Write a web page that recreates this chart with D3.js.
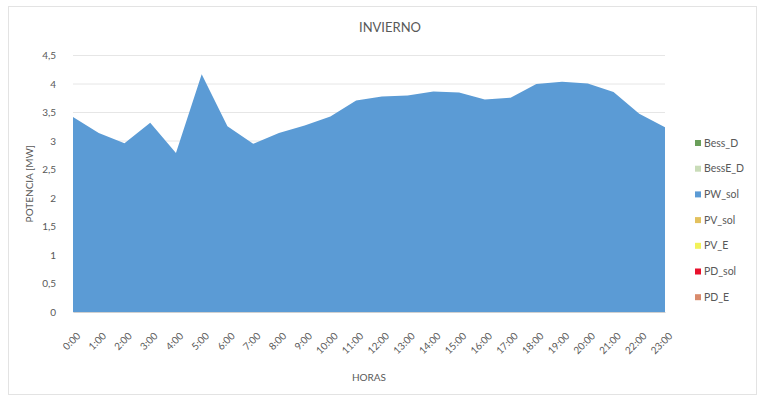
<!DOCTYPE html>
<html>
<head>
<meta charset="utf-8">
<script src="https://cdn.jsdelivr.net/npm/d3@7"></script>
<style>
  html, body { margin: 0; padding: 0; background: #fff; }
  svg { display: block; }
  text { font-family: Lato, "Open Sans", sans-serif; fill: #595959; }
</style>
</head>
<body>
<svg id="chart" width="759" height="397"></svg>
<script>
// Hourly winter profile (MW)
const hours = ["0:00","1:00","2:00","3:00","4:00","5:00","6:00","7:00","8:00","9:00","10:00","11:00",
               "12:00","13:00","14:00","15:00","16:00","17:00","18:00","19:00","20:00","21:00","22:00","23:00"];
const pwSol = [3.42, 3.14, 2.96, 3.32, 2.79, 4.17, 3.26, 2.95, 3.14, 3.27, 3.43, 3.71,
               3.78, 3.80, 3.87, 3.85, 3.73, 3.76, 4.00, 4.04, 4.01, 3.86, 3.48, 3.24];
const yTicks = [0, 0.5, 1, 1.5, 2, 2.5, 3, 3.5, 4, 4.5];
const seriesNames = ["Bess_D", "BessE_D", "PW_sol", "PV_sol", "PV_E", "PD_sol", "PD_E"];
const seriesColors = ["#6a9f5a", "#c9dcb8", "#5b9bd5", "#e3c15e", "#f2f25a", "#e8112d", "#d98b6c"];

const svg = d3.select("#chart");
const W = 759, H = 397;
const m = { left: 73, right: 94, top: 55.5, bottom: 85 };

// chart frame
svg.append("rect").attr("x", 8.5).attr("y", 6.5).attr("width", 748).attr("height", 388)
  .attr("fill", "#fff").attr("stroke", "#e3e3e3");

const x = d3.scalePoint().domain(hours).range([m.left, W - m.right]);
const y = d3.scaleLinear().domain([0, 4.5]).range([H - m.bottom, m.top]);

// horizontal gridlines
svg.append("g").selectAll("line").data(yTicks).join("line")
  .attr("x1", m.left).attr("x2", W - m.right)
  .attr("y1", d => y(d)).attr("y2", d => y(d))
  .attr("stroke", "#e6e6e6").attr("stroke-width", 1);

// filled area
const area = d3.area().x((d, i) => x(hours[i])).y0(y(0)).y1(d => y(d));
svg.append("path").datum(pwSol).attr("d", area).attr("fill", "#5b9bd5");

// y axis labels
const yAxis = svg.append("g").attr("transform", `translate(${m.left - 14},0)`)
  .call(d3.axisLeft(y).tickValues(yTicks).tickSize(0).tickFormat(d => String(d).replace(".", ",")));
yAxis.select(".domain").remove();
yAxis.selectAll("text").attr("font-size", 10).style("fill", "#595959")
  .style("font-family", "Lato, 'Open Sans', sans-serif");

// x axis labels (rotated)
const xAxis = svg.append("g").attr("transform", `translate(0,${y(0)})`)
  .call(d3.axisBottom(x).tickSize(0));
xAxis.select(".domain").attr("stroke", "#d0d0d0");
xAxis.selectAll("text")
  .attr("font-size", 10).style("fill", "#595959")
  .style("font-family", "Lato, 'Open Sans', sans-serif")
  .attr("text-anchor", "end").attr("dy", "0.35em")
  .attr("transform", "translate(3,20) rotate(-45)");

// titles
svg.append("text").attr("x", 390).attr("y", 32).attr("text-anchor", "middle")
  .attr("font-size", 13).text("INVIERNO");
svg.append("text").attr("x", 369).attr("y", 381).attr("text-anchor", "middle")
  .attr("font-size", 10).text("HORAS");
svg.append("text").attr("transform", `translate(33,${(y(0) + y(4.5)) / 2}) rotate(-90)`)
  .attr("text-anchor", "middle").attr("font-size", 10).text("POTENCIA [MW]");

// legend
const lg = svg.append("g").attr("transform", "translate(695,143)");
const item = lg.selectAll("g").data(seriesNames).join("g")
  .attr("transform", (d, i) => `translate(0,${i * 25.7})`);
item.append("rect").attr("x", 0).attr("y", -3).attr("width", 6).attr("height", 6)
  .attr("fill", (d, i) => seriesColors[i]);
item.append("text").attr("x", 9).attr("dy", "0.35em").attr("font-size", 10.5).text(d => d);
</script>
</body>
</html>
